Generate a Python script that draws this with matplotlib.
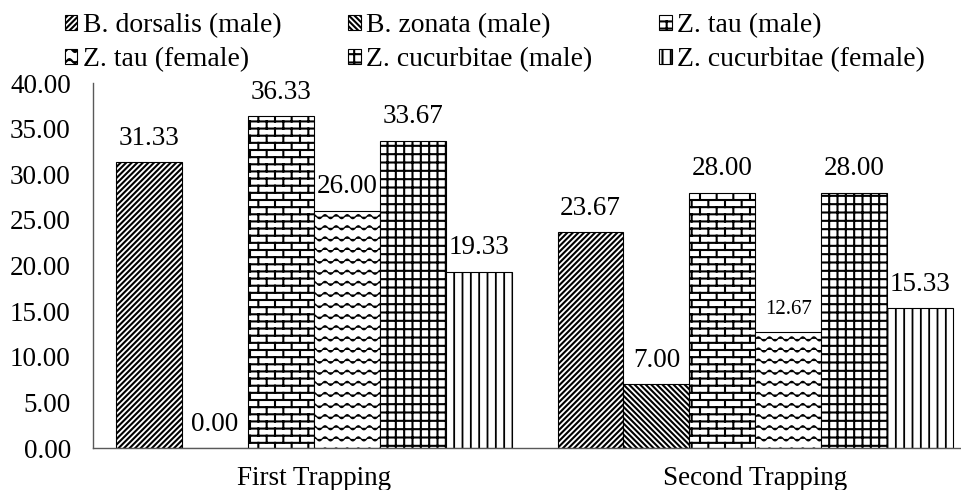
import warnings
import numpy as np
import matplotlib
matplotlib.use("Agg")
import matplotlib.pyplot as plt
import matplotlib.hatch as mhatch
from matplotlib.path import Path

warnings.filterwarnings("ignore")

# ── Data ───────────────────────────────────────────────────────────────
groups = ["First Trapping", "Second Trapping"]
species = ["B. dorsalis (male)", "B. zonata (male)", "Z. tau (male)",
           "Z. tau (female)", "Z. cucurbitae (male)", "Z. cucurbitae (female)"]
first_trap = [31.33, 0.00, 36.33, 26.00, 33.67, 19.33]
second_trap = [23.67, 7.00, 28.00, 12.67, 28.00, 15.33]
yticks = [0, 5, 10, 15, 20, 25, 30, 35, 40]

# 'b' = brick, 'w' = wave (custom patterns registered below)
hatches = ["//////", "\\\\\\\\\\\\", "b", "w", "++", "||"]
hatch_lw = [1.5, 1.5, 1.5, 0.9, 1.5, 1.3]


# ── Custom hatch patterns ──────────────────────────────────────────────
class BrickHatch(mhatch.HatchPatternBase):
    rows, cols = 14, 6

    def __init__(self, hatch, density):
        self.segs = self._segments() if "b" in hatch else []
        self.num_vertices = 2 * len(self.segs)

    def _segments(self):
        h, w = 1 / self.rows, 1 / self.cols
        segs = [((-0.1, 1.0), (1.1, 1.0))]
        for r in range(self.rows):
            y = r * h
            segs.append(((-0.1, y), (1.1, y)))
            off = 0 if r % 2 == 0 else w / 2
            for c in range(self.cols + 1):
                xx = c * w + off
                segs.append(((xx, y), (xx, y + h)))
        return segs

    def set_vertices_and_codes(self, vertices, codes):
        vertices[:] = np.array(self.segs, dtype=float).reshape(-1, 2)
        codes[0::2] = Path.MOVETO
        codes[1::2] = Path.LINETO


class WaveHatch(mhatch.HatchPatternBase):
    rows, waves, pts = 9, 9, 12

    def __init__(self, hatch, density):
        self.on = "w" in hatch
        self.n = self.waves * self.pts + 1
        self.num_vertices = self.rows * self.n if self.on else 0

    def set_vertices_and_codes(self, vertices, codes):
        t = np.linspace(0, 1, self.n)
        amp = 0.02
        for r in range(self.rows):
            sl = slice(r * self.n, (r + 1) * self.n)
            vertices[sl, 0] = t
            vertices[sl, 1] = (r + 0.5) / self.rows + amp * np.sin(2 * np.pi * self.waves * t)
            codes[sl] = Path.LINETO
            codes[r * self.n] = Path.MOVETO


mhatch._hatch_types.extend([BrickHatch, WaveHatch])

# ── Plot ───────────────────────────────────────────────────────────────
plt.rcParams["font.family"] = ["Liberation Serif", "DejaVu Serif"]
plt.rcParams["font.size"] = 19.5
plt.rcParams["hatch.linewidth"] = 1.5
plt.rcParams["hatch.color"] = "black"

fig = plt.figure(figsize=(9.61, 4.9), dpi=100)
ax = fig.add_axes([0.0968, 0.0857, 0.9188, 0.7449])

values = np.array([first_trap, second_trap])
x = np.arange(len(groups))
n = len(species)
width = 0.1493
small_labels = {(1, 3)}

handles = []
for i, (name, hatch) in enumerate(zip(species, hatches)):
    pos = x + (i - (n - 1) / 2) * width
    bars = ax.bar(pos, values[:, i], width, color="white", edgecolor="black",
                  linewidth=0.8, hatch=hatch, label=name)
    for rect in bars:
        if hasattr(rect, "set_hatch_linewidth"):
            rect.set_hatch_linewidth(hatch_lw[i])
    handles.append(bars)
    for g, (rect, v) in enumerate(zip(bars, values[:, i])):
        small = (g, i) in small_labels
        ax.annotate(f"{v:.2f}", (rect.get_x() + rect.get_width() / 2, v),
                    xytext=(0, 13 if small else 12.5), textcoords="offset points",
                    ha="center", va="baseline", fontsize=15 if small else 19.5)

ax.set_xlim(-0.5, 1.5)
ax.set_ylim(0, 40)
ax.set_xticks(x)
ax.set_xticklabels(groups)
ax.set_yticks(yticks)
ax.set_yticklabels([f"{t:.2f}" for t in yticks])
ax.tick_params(axis="y", length=0, pad=16)
ax.tick_params(axis="x", length=0, pad=13)
for side in ["top", "right"]:
    ax.spines[side].set_visible(False)
for side in ["left", "bottom"]:
    ax.spines[side].set_color("#595959")
    ax.spines[side].set_linewidth(1.0)

order = [0, 3, 1, 4, 2, 5]
fig.legend([handles[k] for k in order], [species[k] for k in order],
           ncol=3, loc="upper left", bbox_to_anchor=(0.0676, 0.9735),
           frameon=False, fontsize=20, handlelength=0.45, handleheight=0.45,
           handletextpad=0.2, columnspacing=2.4, labelspacing=0.34,
           borderaxespad=0, borderpad=0)

fig.savefig("out.png", dpi=100)
